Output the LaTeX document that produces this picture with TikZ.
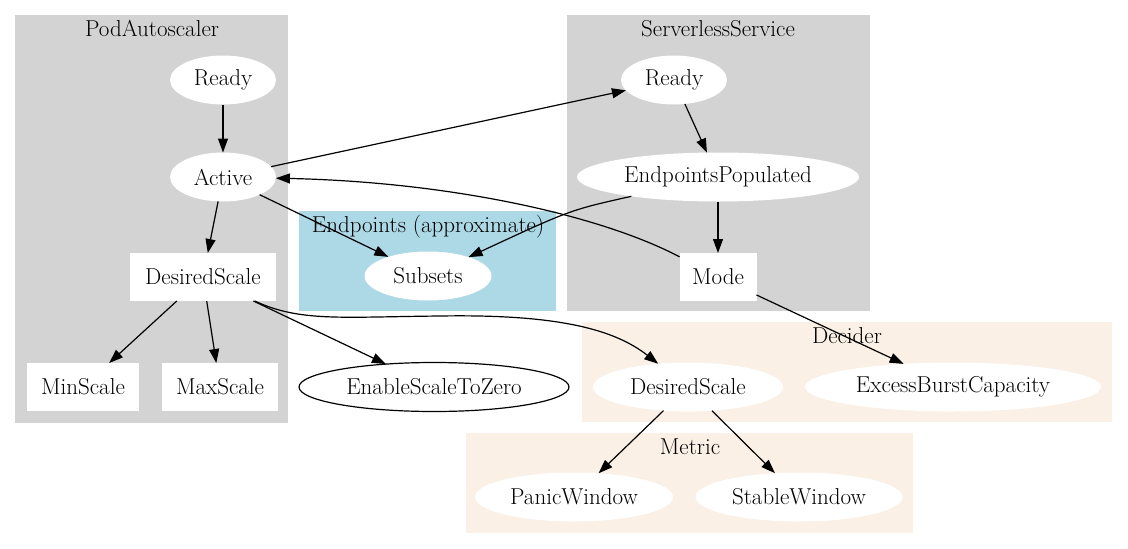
\documentclass[tikz,border=0pt]{standalone}
\usetikzlibrary{arrows.meta,shapes.geometric}
\definecolor{lgrey}{RGB}{211,211,211}
\definecolor{lblue}{RGB}{173,216,230}
\definecolor{linen}{RGB}{250,240,230}
\begin{document}
\begin{tikzpicture}[x=1pt,y=-1pt,
  font=\fontsize{23}{27}\selectfont,
  every node/.style={inner sep=0pt, outer sep=0pt},
  ell/.style={ellipse, fill=white, minimum height=49pt},
  bx/.style={rectangle, fill=white, minimum height=48pt},
  title/.style={anchor=base},
  edge/.style={line width=1.2pt, -{Triangle[length=14pt,width=10pt]}},
]
\useasboundingbox (0,0) rectangle (1128,549);
% clusters
\fill[lgrey] (15,15) rectangle (288,423);
\fill[lgrey] (567,15) rectangle (870,311);
\fill[lblue] (299,211) rectangle (556,311);
\fill[linen] (582,322) rectangle (1112,422);
\fill[linen] (466,433) rectangle (913,533);
\node[title] (tPA) at (152,36) {PodAutoscaler};
\node[title] (tSS) at (718,36) {ServerlessService};
\node[title] (tEP) at (428,232) {Endpoints (approximate)};
\node[title] (tDec) at (847,343) {Decider};
\node[title] (tMet) at (690,454) {Metric};
% nodes
\node[ell, minimum width=106pt] (pardy) at (223,80) {Ready};
\node[ell, minimum width=106pt] (pact) at (223,177) {Active};
\node[bx, minimum width=146pt] (pads) at (203,277) {DesiredScale};
\node[bx, minimum width=112pt] (pmin) at (83,387) {MinScale};
\node[bx, minimum width=116pt] (pmax) at (220,387) {MaxScale};
\node[ell, minimum width=127pt] (sub) at (428,276) {Subsets};
\node[ell, minimum width=106pt] (srdy) at (674,80) {Ready};
\node[ell, minimum width=282pt] (sep) at (718,177) {EndpointsPopulated};
\node[bx, minimum width=77pt] (smode) at (718,277) {Mode};
\node[ellipse, draw, line width=1.2pt, minimum width=270pt, minimum height=49pt] (ez) at (434,387) {EnableScaleToZero};
\node[ell, minimum width=190pt] (dds) at (688,387) {DesiredScale};
\node[ell, minimum width=296pt] (ebc) at (953,387) {ExcessBurstCapacity};
\node[ell, minimum width=198pt] (pw) at (574,497) {PanicWindow};
\node[ell, minimum width=207pt] (sw) at (799,497) {StableWindow};
% edges
\draw[edge] (pardy) -- (pact);
\draw[edge] (pact) -- (srdy);
\draw[edge] (pact) -- (pads);
\draw[edge] (pact) -- (sub);
\draw[edge] (srdy) -- (sep);
\draw[edge] (sep) .. controls (570,210) .. (sub);
\draw[edge] (sep) -- (smode);
\draw[edge] (smode) .. controls (600,215) and (450,182) .. (pact);
\draw[edge] (smode) -- (ebc);
\draw[edge] (pads) -- (pmin);
\draw[edge] (pads) -- (pmax);
\draw[edge] (pads) -- (ez);
\draw[edge] (pads) .. controls (300,322) and (340,317) .. (440,316) .. controls (560,314) and (615,330) .. (dds);
\draw[edge] (dds) -- (pw);
\draw[edge] (dds) -- (sw);
\end{tikzpicture}
\end{document}
